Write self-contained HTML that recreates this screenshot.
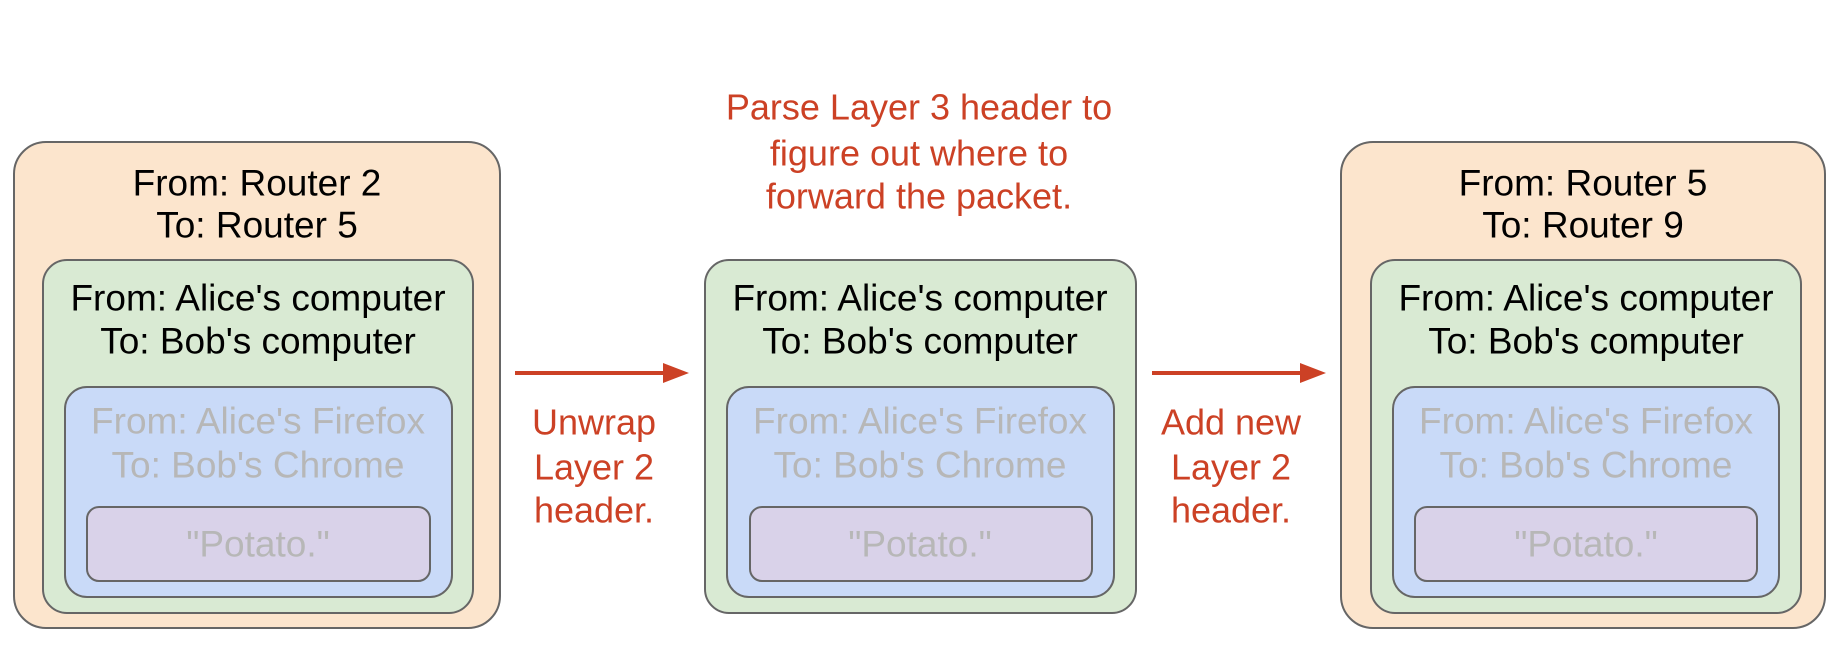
<!DOCTYPE html>
<html><head><style>
html,body{margin:0;padding:0;background:#fff;width:1837px;height:657px;overflow:hidden}
svg text{font-family:"Liberation Sans",sans-serif;}
</style></head><body>
<svg width="1837" height="657" viewBox="0 0 1837 657" xmlns="http://www.w3.org/2000/svg">
<g stroke="#666" stroke-width="2">
<rect x="14" y="142" width="486" height="486" rx="32" fill="#fce5cd"/>
<rect x="43" y="260" width="430" height="353" rx="24" fill="#d9ead3"/>
<rect x="65" y="387" width="387" height="210" rx="22" fill="#c9daf8"/>
<rect x="87" y="507" width="343" height="74" rx="12" fill="#d9d2e9"/>

<rect x="705" y="260" width="431" height="353" rx="24" fill="#d9ead3"/>
<rect x="727" y="387" width="387" height="210" rx="22" fill="#c9daf8"/>
<rect x="750" y="507" width="342" height="74" rx="12" fill="#d9d2e9"/>

<rect x="1341" y="142" width="484" height="486" rx="32" fill="#fce5cd"/>
<rect x="1371" y="260" width="430" height="353" rx="24" fill="#d9ead3"/>
<rect x="1393" y="387" width="386" height="210" rx="22" fill="#c9daf8"/>
<rect x="1415" y="507" width="342" height="74" rx="12" fill="#d9d2e9"/>
</g>
<g font-size="37" text-anchor="middle" dominant-baseline="central">
<text x="257" y="183" fill="#000">From: Router 2</text>
<text x="257" y="225" fill="#000">To: Router 5</text>
<text x="258" y="298" fill="#000">From: Alice's computer</text>
<text x="258" y="341" fill="#000">To: Bob's computer</text>
<text x="258" y="421" fill="#b7b7b7">From: Alice's Firefox</text>
<text x="258" y="465" fill="#b7b7b7">To: Bob's Chrome</text>
<text x="258" y="544" fill="#b7b7b7">"Potato."</text>

<text x="920" y="298" fill="#000">From: Alice's computer</text>
<text x="920" y="341" fill="#000">To: Bob's computer</text>
<text x="920" y="421" fill="#b7b7b7">From: Alice's Firefox</text>
<text x="920" y="465" fill="#b7b7b7">To: Bob's Chrome</text>
<text x="920" y="544" fill="#b7b7b7">"Potato."</text>

<text x="1583" y="183" fill="#000">From: Router 5</text>
<text x="1583" y="225" fill="#000">To: Router 9</text>
<text x="1586" y="298" fill="#000">From: Alice's computer</text>
<text x="1586" y="341" fill="#000">To: Bob's computer</text>
<text x="1586" y="421" fill="#b7b7b7">From: Alice's Firefox</text>
<text x="1586" y="465" fill="#b7b7b7">To: Bob's Chrome</text>
<text x="1586" y="544" fill="#b7b7b7">"Potato."</text>
</g>
<g font-size="36" text-anchor="middle" dominant-baseline="central" fill="#cc4125">
<text x="919" y="107">Parse Layer 3 header to</text>
<text x="919" y="153">figure out where to</text>
<text x="919" y="196">forward the packet.</text>
<text x="594" y="422">Unwrap</text>
<text x="594" y="467">Layer 2</text>
<text x="594" y="510">header.</text>
<text x="1231" y="422">Add new</text>
<text x="1231" y="467">Layer 2</text>
<text x="1231" y="510">header.</text>
</g>
<g fill="#cc4125" stroke="none">
<rect x="515" y="371" width="150" height="4"/>
<polygon points="663,363 689,373 663,383"/>
<rect x="1152" y="371" width="150" height="4"/>
<polygon points="1300,363 1326,373 1300,383"/>
</g>
</svg>
</body></html>
